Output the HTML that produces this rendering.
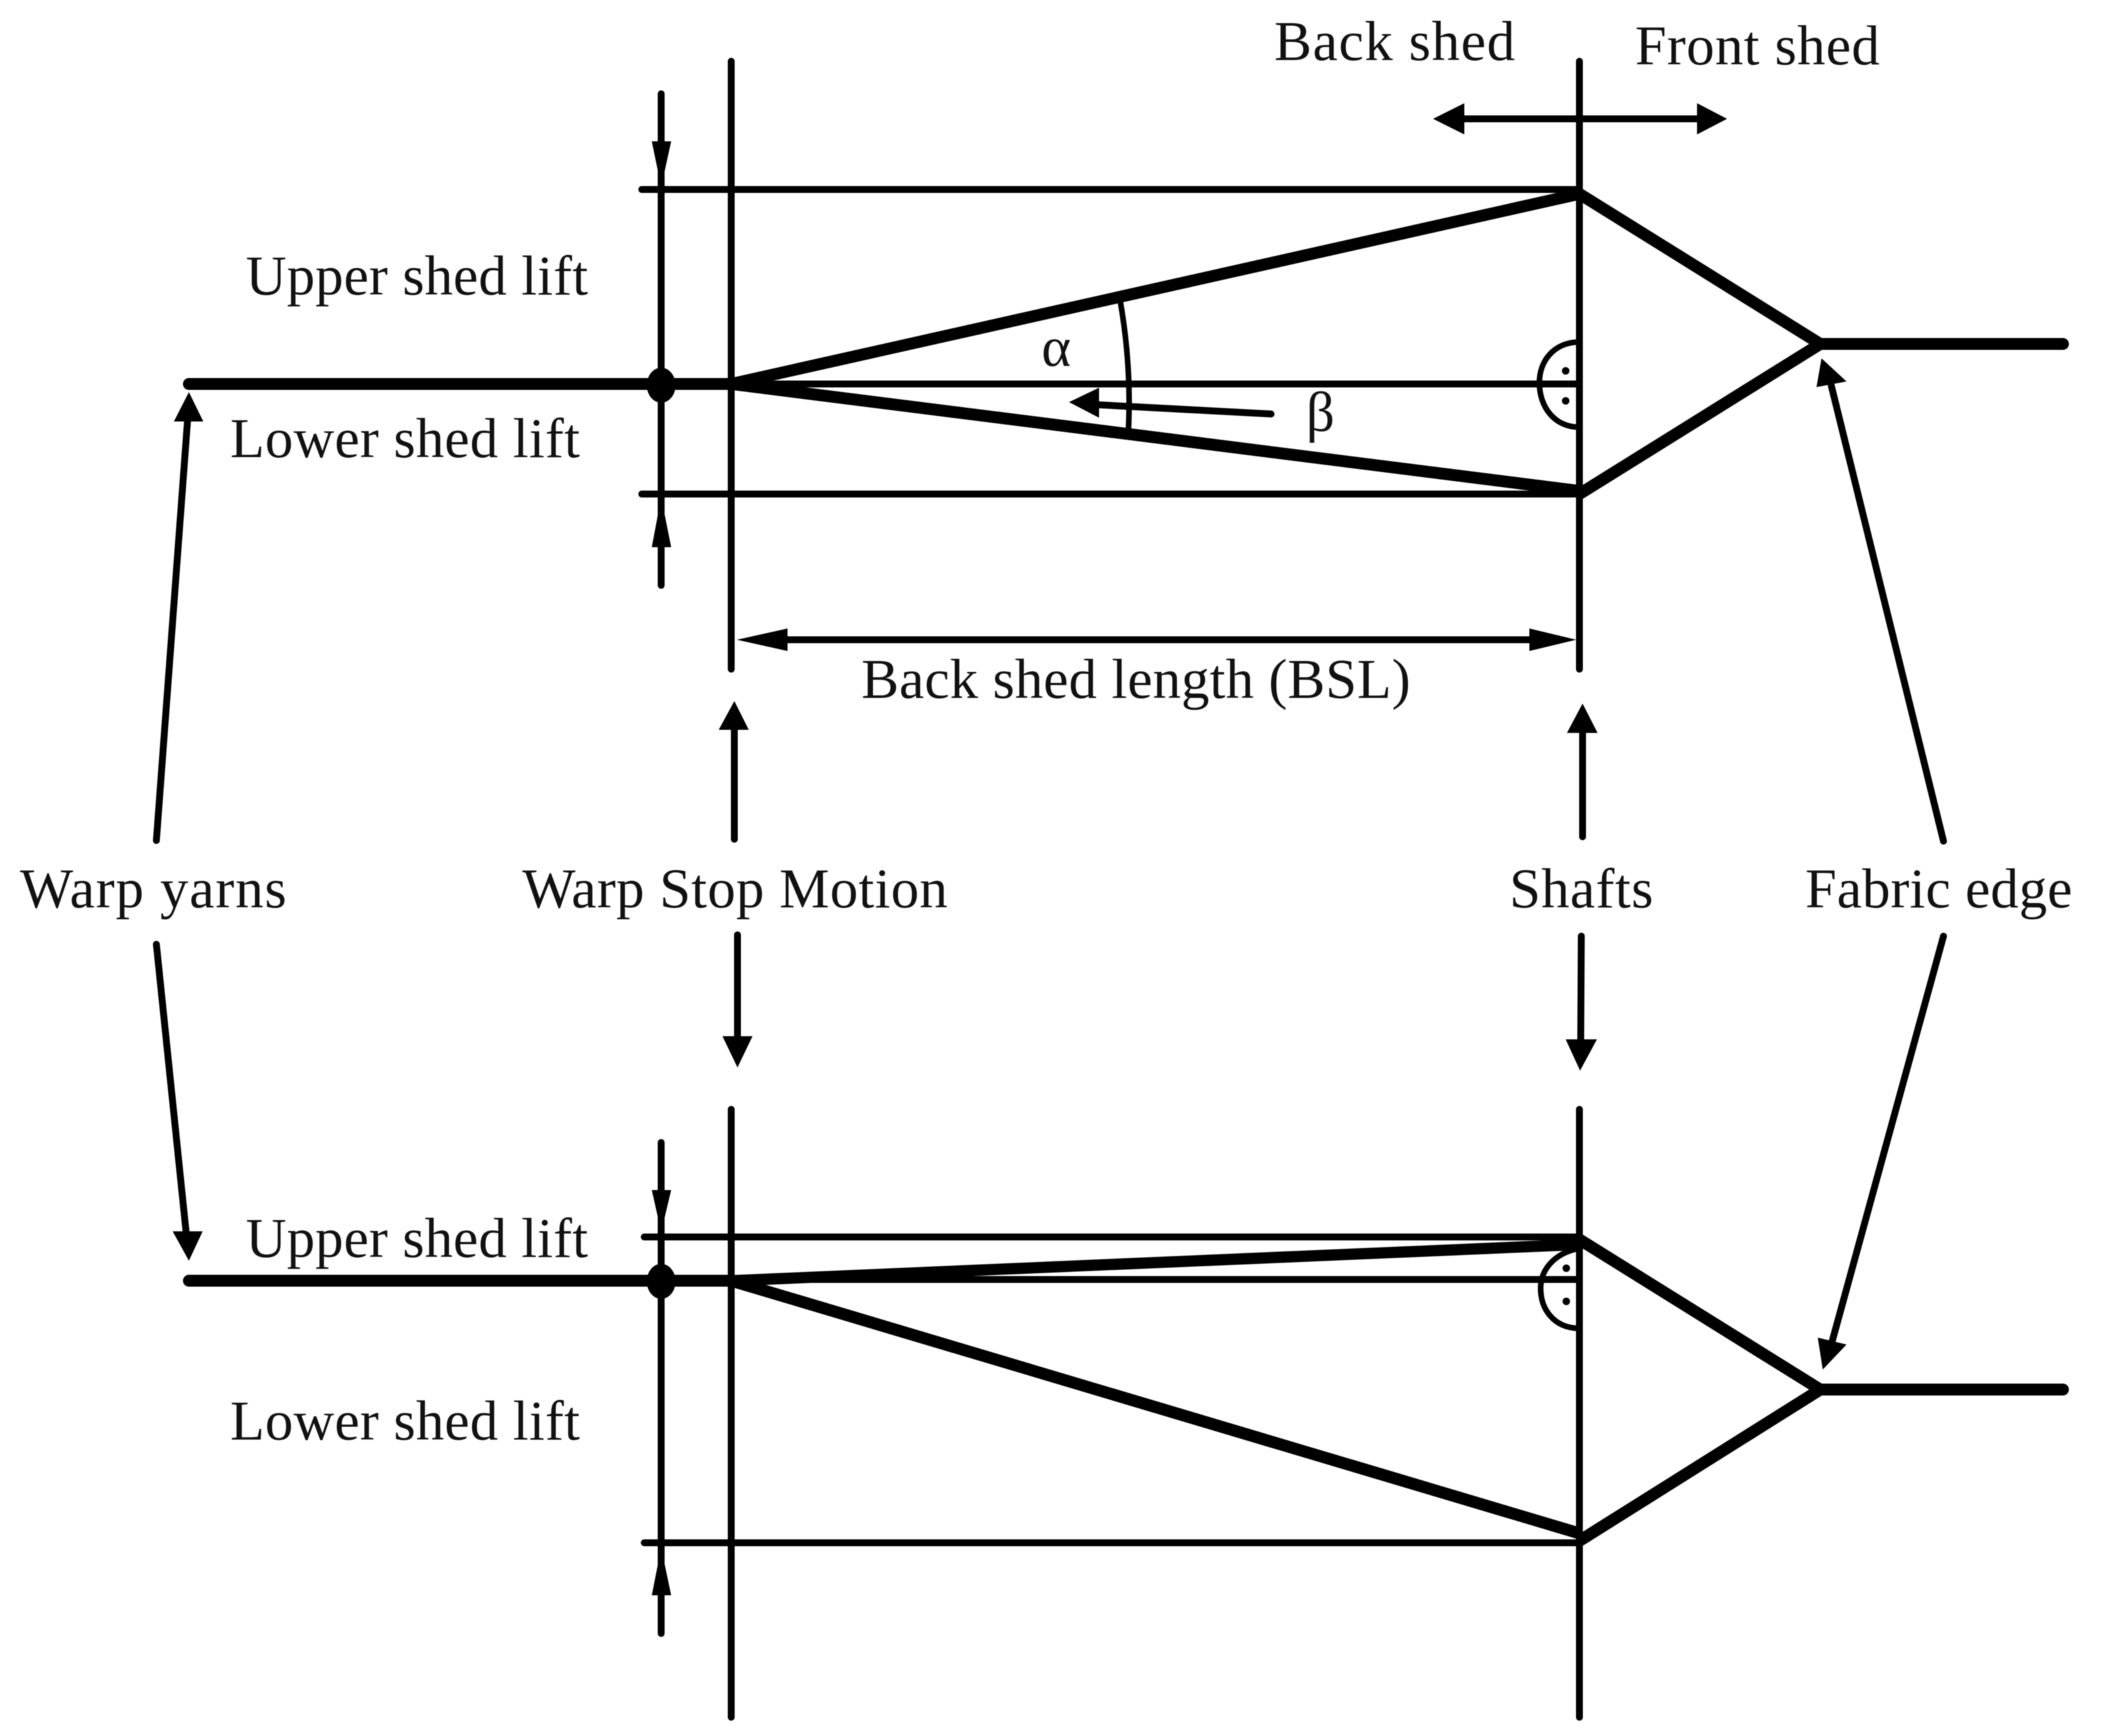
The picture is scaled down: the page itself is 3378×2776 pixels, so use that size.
<!DOCTYPE html>
<html><head><meta charset="utf-8"><style>
html,body{margin:0;padding:0;background:#fff}
svg{display:block;filter:blur(0.7px)}
text{font-family:"Liberation Serif",serif;font-size:90px;fill:#111}
</style></head><body>
<svg width="3378" height="2776" viewBox="0 0 3378 2776" xmlns="http://www.w3.org/2000/svg">
<rect width="3378" height="2776" fill="#fff"/>
<g stroke="#000" fill="none" stroke-linecap="round">
<!-- top diagram thin lines -->
<g stroke-width="11">
<path d="M1169 98V1070M2525 98V1070"/>
<path d="M1026 303H2525M1026 790H2525"/>
<path d="M1057 150V936"/>
<path d="M1169 614H2525"/>
<path d="M2340 190H2715"/>
<path d="M1250 1023H2450"/>
<!-- bottom -->
<path d="M1169 1774V2746M2525 1774V2746"/>
<path d="M1030 1978H2525M1030 2467H2525"/>
<path d="M1057 1827V2612"/>
<path d="M1169 2046H2525"/>
<!-- pointer arrows -->
<path d="M250 1344L300 670"/>
<path d="M1174 1342V1160"/>
<path d="M2530 1338V1165"/>
<path d="M3107 1345L2926 610"/>
<path d="M250 1510L298 1975"/>
<path d="M1179 1495L1179 1665"/>
<path d="M2528 1497L2527 1670"/>
<path d="M3107 1497L2929 2145"/>
<path d="M2032 662L1750 647"/>
</g>
<!-- thick lines -->
<g stroke-width="19">
<path d="M302 614H1169" stroke-linecap="round"/>
<path d="M302 2048H1169" stroke-linecap="round"/>
<path d="M2910 550H3298"/>
<path d="M2910 2222H3298"/>
<path d="M2525 310L2910 550L2525 790" stroke-linecap="butt" stroke-linejoin="miter"/>
<path d="M2525 1982L2910 2222L2525 2464" stroke-linecap="butt" stroke-linejoin="miter"/>
<path d="M1169 614L2525 310" stroke-width="19" stroke-linecap="butt"/>
<path d="M1169 614L2525 785" stroke-width="19" stroke-linecap="butt"/>
<path d="M1169 2048L2525 1990" stroke-width="18" stroke-linecap="butt"/>
<path d="M1169 2048L2525 2452" stroke-width="19" stroke-linecap="butt"/>
</g>
<!-- arcs -->
<g stroke-width="9" stroke-linecap="butt">
<path d="M1791 482Q1809 585 1804 688"/>
<path d="M2521 547C2484 549 2461 577 2461 612C2461 650 2484 681 2521 683"/>
<path d="M2521 1997C2485 2005 2463 2030 2463 2060C2463 2095 2485 2122 2521 2124"/>
</g>
</g>
<g fill="#000" stroke="none">
<ellipse cx="1057" cy="616" rx="23" ry="28"/>
<ellipse cx="1057" cy="2049" rx="23" ry="28"/>
<circle cx="2503" cy="593" r="6"/><circle cx="2503" cy="641" r="6"/>
<circle cx="2504" cy="2028" r="6"/><circle cx="2504" cy="2081" r="6"/>
<!-- arrowheads -->
<polygon points="1042,226 1073,226 1057,299"/>
<polygon points="1042,875 1073,875 1057,795"/>
<polygon points="1042,1903 1073,1903 1057,1970"/>
<polygon points="1042,2551 1073,2551 1057,2475"/>
<polygon points="2341,165 2341,215 2291,190"/>
<polygon points="2713,165 2713,215 2761,190"/>
<polygon points="1259,1005 1259,1041 1178,1023"/>
<polygon points="2445,1005 2445,1041 2520,1023"/>
<polygon points="278,674 325,674 302,627"/>
<polygon points="1149,1167 1197,1167 1174,1121"/>
<polygon points="2505,1172 2554,1172 2530,1125"/>
<polygon points="2904,619 2952,610 2912,573"/>
<polygon points="276,1969 324,1969 302,2016"/>
<polygon points="1155,1657 1203,1657 1179,1707"/>
<polygon points="2503,1662 2553,1662 2526,1712"/>
<polygon points="2906,2139 2952,2150 2914,2190"/>
<polygon points="1757,620 1757,668 1709,643"/>
</g>
<text x="393" y="471" textLength="547">Upper shed lift</text>
<text x="368" y="731" textLength="559">Lower shed lift</text>
<text x="1377" y="1116" textLength="878">Back shed length (BSL)</text>
<text x="2037" y="96" textLength="385">Back shed</text>
<text x="2614" y="103" textLength="391">Front shed</text>
<text x="1665" y="585">α</text>
<text x="2088" y="689">β</text>
<text x="32" y="1451" textLength="426">Warp yarns</text>
<text x="835" y="1451" textLength="680">Warp Stop Motion</text>
<text x="2413" y="1451" textLength="230">Shafts</text>
<text x="2886" y="1451" textLength="427">Fabric edge</text>
<text x="393" y="2010" textLength="547">Upper shed lift</text>
<text x="368" y="2302" textLength="559">Lower shed lift</text>
</svg>
</body></html>
